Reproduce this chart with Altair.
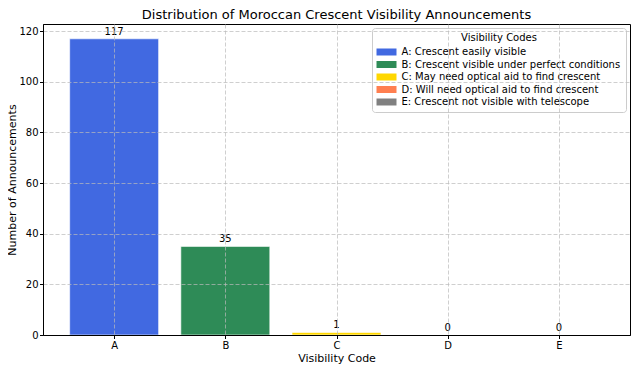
import altair as alt
import pandas as pd

codes = ["A", "B", "C", "D", "E"]
counts = [117, 35, 1, 0, 0]
labels = [
    "A: Crescent easily visible",
    "B: Crescent visible under perfect conditions",
    "C: May need optical aid to find crescent",
    "D: Will need optical aid to find crescent",
    "E: Crescent not visible with telescope",
]
colors = ["#4169E1", "#2E8B57", "#FFD700", "#FF7F50", "#808080"]

df = pd.DataFrame({"code": codes, "count": counts, "label": labels, "idx": list(range(len(codes)))})

FONT = "DejaVu Sans"
label_expr = "[" + ",".join(f"'{c}'" for c in codes) + "][datum.value]"

xscale = alt.Scale(domain=[-0.64, 4.64], nice=False, zero=False)
yscale = alt.Scale(domain=[0, 122.85], nice=False)

PAD_L = 35
TOTAL_W = 623

base = alt.Chart(df).transform_calculate(
    x_lo="datum.idx - 0.4", x_hi="datum.idx + 0.4"
)

bars = base.mark_bar(stroke="white", strokeWidth=0.6).encode(
    x=alt.X("x_lo:Q", scale=xscale,
            axis=alt.Axis(values=list(range(len(codes))), labelExpr=label_expr,
                          title="Visibility Code", grid=True, gridDash=[4, 2],
                          gridColor="#bbbbbb", gridOpacity=0.7, zindex=1, titlePadding=2)),
    x2="x_hi:Q",
    y=alt.Y("count:Q", scale=yscale,
            axis=alt.Axis(values=[0, 20, 40, 60, 80, 100, 120], title="Number of Announcements",
                          grid=True, gridDash=[4, 2], gridColor="#bbbbbb", gridOpacity=0.7, zindex=1,
                          titlePadding=1, labelPadding=1.5)),
    y2=alt.datum(0),
    color=alt.Color("label:N", scale=alt.Scale(domain=labels, range=colors),
                    legend=alt.Legend(title="Visibility Codes", orient="top-right", offset=4,
                                      titleAnchor="middle", titleFontWeight="normal", titleFontSize=10,
                                      titleFont=FONT, labelFont=FONT, labelFontSize=10,
                                      symbolType="M-4,-1.4L4,-1.4L4,1.4L-4,1.4Z", symbolSize=25,
                                      symbolStrokeWidth=0, symbolOpacity=1, symbolOffset=4.5,
                                      labelOffset=10, rowPadding=2.5, padding=5,
                                      strokeColor="#cccccc", fillColor="white", cornerRadius=3,
                                      labelLimit=400, titlePadding=4)),
)

text = base.mark_text(dy=-2, fontSize=10, font=FONT, color="black", baseline="bottom").encode(
    x=alt.X("idx:Q", scale=xscale),
    y=alt.Y("count:Q", scale=yscale),
    text="count:Q",
)

chart = (bars + text).properties(
    width=TOTAL_W - PAD_L - 1, height=311,
    title=alt.TitleParams("Distribution of Moroccan Crescent Visibility Announcements",
                          font=FONT, fontSize=13, fontWeight="normal", anchor="middle", offset=2),
    autosize=alt.AutoSizeParams(type="none"),
    padding={"left": PAD_L, "top": 16, "right": 1, "bottom": 29},
).configure_axis(
    labelFont=FONT, titleFont=FONT, labelFontSize=10, titleFontSize=11,
    titleFontWeight="normal", labelColor="black", titleColor="black",
    domainColor="black", tickColor="black", tickSize=3.5, labelPadding=2, titlePadding=3,
).configure_view(stroke="black", strokeWidth=1)

chart.save("out.html", embed_options={"renderer": "svg", "actions": False})
